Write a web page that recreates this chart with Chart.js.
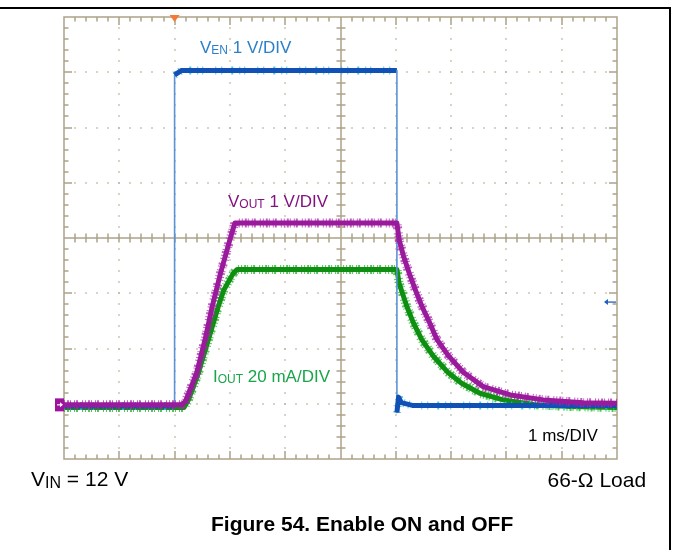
<!DOCTYPE html>
<html>
<head>
<meta charset="utf-8">
<script src="https://cdn.jsdelivr.net/npm/chart.js@4.4.1/dist/chart.umd.min.js"></script>
<style>
html,body{margin:0;padding:0;background:#fff;}
#wrap{position:relative;width:673px;height:550px;overflow:hidden;font-family:"Liberation Sans",Arial,sans-serif;}
#c{position:absolute;left:0;top:0;}
.t{position:absolute;white-space:nowrap;line-height:1;}
.s{font-size:12px;position:relative;top:1px;}
.s2{font-size:16px;position:relative;top:2px;}
.frameTop{position:absolute;left:0;top:7px;width:671px;height:2px;background:#000;}
.frameRight{position:absolute;left:669px;top:7px;width:2px;height:543px;background:#000;}
</style>
</head>
<body>
<div id="wrap">
  <div class="frameTop"></div>
  <div class="frameRight"></div>
  <canvas id="c" width="673" height="550"></canvas>
  <div class="t" style="left:200px;top:39px;font-size:17px;color:#2b7fc9;">V<span class="s">EN</span> 1 V/DIV</div>
  <div class="t" style="left:228px;top:192.5px;font-size:17px;color:#84127f;">V<span class="s">OUT</span> 1 V/DIV</div>
  <div class="t" style="left:213px;top:367.5px;font-size:17px;color:#19a64b;">I<span class="s">OUT</span> 20 mA/DIV</div>
  <div class="t" style="left:528px;top:426.5px;font-size:17px;color:#000;">1 ms/DIV</div>
  <div class="t" style="left:31px;top:468px;font-size:21px;color:#000;">V<span class="s2">IN</span> = 12 V</div>
  <div class="t" style="left:547.5px;top:469px;font-size:21px;color:#000;">66-Ω Load</div>
  <div class="t" style="left:211px;top:513px;font-size:21px;font-weight:bold;color:#000;">Figure 54. Enable ON and OFF</div>
</div>
<script>
// Oscilloscope graticule: 10 horizontal divisions (1 ms/DIV), 8 vertical divisions
const xDivisions = 10;
const yDivisions = 8;
const minorPerDiv = 5;

const venTimeMs  = [0, 2.00, 2.00, 2.03, 2.12, 6.02, 6.02, 6.05, 6.10, 6.30, 10];
const venDiv     = [0.96, 0.96, 6.95, 6.97, 7.03, 7.03, 0.84, 1.12, 1.02, 0.97, 0.97];

const voutTimeMs = [0, 2.13, 2.20, 2.40, 2.55, 2.68, 2.83, 3.00, 3.09, 3.15, 6.02, 6.06, 6.14, 6.24, 6.35, 6.47, 6.61, 6.74, 6.95, 7.22, 7.58, 8.07, 8.67, 9.39, 10];
const voutDiv    = [0.98, 0.98, 1.05, 1.56, 2.16, 2.76, 3.36, 3.97, 4.27, 4.27, 4.27, 3.97, 3.67, 3.37, 3.07, 2.77, 2.47, 2.17, 1.87, 1.57, 1.31, 1.16, 1.07, 1.02, 1.01];

const ioutTimeMs = [0, 2.17, 2.25, 2.43, 2.61, 2.79, 2.89, 3.06, 3.13, 6.02, 6.06, 6.12, 6.20, 6.32, 6.47, 6.68, 6.95, 7.19, 7.52, 7.94, 8.55, 9.15, 10];
const ioutDiv    = [0.93, 0.93, 1.07, 1.56, 2.16, 2.76, 3.06, 3.36, 3.43, 3.43, 3.18, 3.00, 2.76, 2.46, 2.16, 1.86, 1.56, 1.37, 1.19, 1.07, 0.98, 0.95, 0.93];

// Scope markers
const triggerTimeMs = 2.0;
const triggerLevelDiv = 2.84;
const groundMarkerDiv = 0.98;

const pts = (xs, ys) => xs.map((x, i) => ({x, y: ys[i]}));

const graticule = {
  id: 'graticule',
  beforeDatasetsDraw(chart) {
    const {ctx, scales} = chart;
    const xs = scales.x, ys = scales.y;
    const X = v => Math.round(xs.getPixelForValue(v));
    const Y = v => Math.round(ys.getPixelForValue(v));
    ctx.save();
    ctx.fillStyle = '#bcb49a';
    for (let i = 1; i < xDivisions; i++) {
      if (i === xDivisions / 2) continue;
      for (let k = 1; k < yDivisions * minorPerDiv; k++) {
        ctx.fillRect(X(i) - 0.75, Y(k / minorPerDiv) - 0.75, 1.5, 1.5);
      }
    }
    for (let j = 1; j < yDivisions; j++) {
      if (j === yDivisions / 2) continue;
      for (let k = 1; k < xDivisions * minorPerDiv; k++) {
        ctx.fillRect(X(k / minorPerDiv) - 0.75, Y(j) - 0.75, 1.5, 1.5);
      }
    }
    const L = X(0), R = X(xDivisions), T = Y(yDivisions), B = Y(0);
    const cx = X(xDivisions / 2), cy = Y(yDivisions / 2);
    ctx.strokeStyle = '#aca388';
    ctx.lineWidth = 1.5;
    ctx.strokeRect(L, T, R - L, B - T);
    ctx.beginPath();
    ctx.moveTo(cx, T); ctx.lineTo(cx, B);
    ctx.moveTo(L, cy); ctx.lineTo(R, cy);
    for (let k = 1; k < xDivisions * minorPerDiv; k++) {
      const px = X(k / minorPerDiv);
      const len = k % minorPerDiv === 0 ? 8 : 4.5;
      ctx.moveTo(px, T); ctx.lineTo(px, T + len);
      ctx.moveTo(px, B); ctx.lineTo(px, B - len);
      ctx.moveTo(px, cy - 4.5); ctx.lineTo(px, cy + 4.5);
    }
    for (let k = 1; k < yDivisions * minorPerDiv; k++) {
      const py = Y(k / minorPerDiv);
      const len = k % minorPerDiv === 0 ? 8 : 4.5;
      ctx.moveTo(L, py); ctx.lineTo(L + len, py);
      ctx.moveTo(R, py); ctx.lineTo(R - len, py);
      ctx.moveTo(cx - 4.5, py); ctx.lineTo(cx + 4.5, py);
    }
    ctx.stroke();
    ctx.restore();
  },
  afterDatasetsDraw(chart) {
    const {ctx, scales} = chart;
    const xs = scales.x, ys = scales.y;
    const L = xs.getPixelForValue(0), R = xs.getPixelForValue(xDivisions), T = ys.getPixelForValue(yDivisions);
    ctx.save();
    // trigger position (orange)
    const tx = xs.getPixelForValue(triggerTimeMs);
    ctx.fillStyle = '#f47b35';
    ctx.beginPath();
    ctx.moveTo(tx - 5, T - 2); ctx.lineTo(tx + 5, T - 2); ctx.lineTo(tx, T + 5); ctx.closePath();
    ctx.fill();
    // channel ground marker (purple box with arrow)
    const gy = ys.getPixelForValue(groundMarkerDiv);
    ctx.fillStyle = '#9c139e';
    ctx.fillRect(L - 9, gy - 6.5, 9, 13);
    ctx.strokeStyle = '#fff'; ctx.fillStyle = '#fff'; ctx.lineWidth = 1.2;
    ctx.beginPath(); ctx.moveTo(L - 7, gy); ctx.lineTo(L - 2, gy); ctx.stroke();
    ctx.beginPath(); ctx.moveTo(L - 1, gy); ctx.lineTo(L - 4, gy - 2.5); ctx.lineTo(L - 4, gy + 2.5); ctx.closePath(); ctx.fill();
    // trigger level (blue arrow)
    const ly = ys.getPixelForValue(triggerLevelDiv);
    ctx.strokeStyle = '#1f5fbf'; ctx.fillStyle = '#1f5fbf'; ctx.lineWidth = 1.3;
    ctx.beginPath(); ctx.moveTo(R - 1, ly); ctx.lineTo(R - 10, ly); ctx.stroke();
    ctx.beginPath(); ctx.moveTo(R - 13, ly); ctx.lineTo(R - 9, ly - 3); ctx.lineTo(R - 9, ly + 3); ctx.closePath(); ctx.fill();
    ctx.restore();
  }
};

const vertical = c => c.p0.parsed.x === c.p1.parsed.x;
const noiseDash = [1, 2, 2, 1, 1, 3, 1, 1, 2, 4, 1, 2];

new Chart(document.getElementById('c'), {
  type: 'line',
  data: {
    datasets: [
      {
        label: 'VOUT',
        data: pts(voutTimeMs, voutDiv),
        borderColor: '#9a1a9c',
        borderWidth: 5,
        order: 0
      },
      {
        label: 'VOUT noise',
        data: pts(voutTimeMs, voutDiv),
        borderColor: 'rgba(170,40,175,0.75)',
        borderWidth: 9,
        borderDash: noiseDash,
        order: 0.5
      },
      {
        label: 'VEN',
        data: pts(venTimeMs, venDiv),
        borderColor: '#1150b4',
        borderWidth: 5,
        order: 1,
        segment: {
          borderWidth: c => vertical(c) ? 1.6 : 5,
          borderColor: c => vertical(c) ? '#5a92d6' : '#1150b4'
        }
      },
      {
        label: 'VEN noise',
        data: pts(venTimeMs, venDiv),
        borderColor: 'rgba(40,190,220,0.85)',
        borderWidth: 8,
        borderDash: [1, 5, 1, 9, 2, 6, 1, 4, 1, 12],
        order: 1.5,
        segment: {
          borderColor: c => vertical(c) ? 'rgba(0,0,0,0)' : 'rgba(40,190,220,0.85)'
        }
      },
      {
        label: 'IOUT',
        data: pts(ioutTimeMs, ioutDiv),
        borderColor: '#0f8f12',
        borderWidth: 5,
        order: 2
      },
      {
        label: 'IOUT noise',
        data: pts(ioutTimeMs, ioutDiv),
        borderColor: 'rgba(30,175,35,0.75)',
        borderWidth: 9,
        borderDash: noiseDash,
        order: 2.5
      }
    ]
  },
  options: {
    responsive: false,
    animation: false,
    devicePixelRatio: 1,
    layout: {padding: {left: 64, right: 56, top: 17, bottom: 91}},
    elements: {
      point: {radius: 0, hoverRadius: 0},
      line: {tension: 0, borderJoinStyle: 'round', borderCapStyle: 'butt', fill: false}
    },
    scales: {
      x: {type: 'linear', min: 0, max: xDivisions, display: false},
      y: {type: 'linear', min: 0, max: yDivisions, display: false}
    },
    plugins: {legend: {display: false}, tooltip: {enabled: false}}
  },
  plugins: [graticule]
});
</script>
</body>
</html>
